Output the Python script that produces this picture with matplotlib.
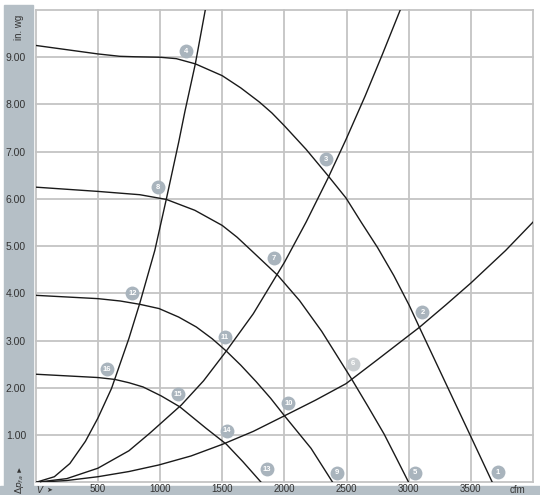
import matplotlib.pyplot as plt
from matplotlib.patches import Rectangle

# fan curves (cfm, in. wg)
fan1_q = [0, 500, 676, 800, 1000, 1131, 1284, 1500, 1650, 1800, 1900, 2000, 2175, 2349, 2496,
          2620, 2750, 2880, 3004, 3085, 3500, 3673]
fan1_p = [9.25, 9.07, 9.02, 9.01, 9.0, 8.97, 8.86, 8.61, 8.35, 8.05, 7.82, 7.55, 7.05, 6.5, 6.02,
          5.5, 4.97, 4.38, 3.75, 3.29, 0.97, 0]
fan2_q = [0, 500, 837, 1051, 1280, 1500, 1620, 1734, 1948, 2122, 2300, 2536, 2670, 2803, 2900, 3000]
fan2_p = [6.25, 6.16, 6.09, 5.99, 5.76, 5.44, 5.19, 4.91, 4.38, 3.85, 3.2, 2.21, 1.62, 1.02, 0.52, 0]
fan3_q = [0, 500, 680, 837, 992, 1150, 1292, 1420, 1533, 1650, 1774, 1890, 2001, 2215, 2389]
fan3_p = [3.96, 3.89, 3.84, 3.77, 3.68, 3.5, 3.29, 3.04, 2.78, 2.48, 2.13, 1.78, 1.41, 0.72, 0]
fan4_q = [0, 500, 636, 750, 864, 1010, 1159, 1373, 1533, 1666, 1814]
fan4_p = [2.29, 2.22, 2.18, 2.11, 2.02, 1.83, 1.6, 1.14, 0.81, 0.44, 0]

# system curves
sys1_q = [0, 150, 275, 400, 500, 610, 750, 837, 958, 1051, 1150, 1200, 1284, 1364]
sys1_p = [0, 0.12, 0.4, 0.87, 1.36, 1.99, 3.05, 3.79, 4.91, 6.0, 7.2, 7.85, 8.86, 10.0]
sys2_q = [0, 250, 500, 750, 917, 1172, 1350, 1533, 1750, 2001, 2175, 2349, 2496, 2650, 2790, 2932]
sys2_p = [0, 0.08, 0.3, 0.67, 1.04, 1.64, 2.15, 2.78, 3.57, 4.66, 5.51, 6.43, 7.26, 8.18, 9.07, 10.0]
sys3_q = [0, 250, 500, 750, 992, 1250, 1506, 1750, 2001, 2250, 2496, 2750, 2996, 3085, 3300,
          3500, 3780, 4000]
sys3_p = [0, 0.04, 0.12, 0.23, 0.37, 0.56, 0.81, 1.08, 1.41, 1.74, 2.09, 2.6, 3.1, 3.28, 3.76,
          4.22, 4.91, 5.51]

# numbered operating-point markers
marker_ids = list(range(1, 17))
marker_q = [3719, 3111, 2333, 1212, 3050, 2552, 1913, 984, 2421, 2033, 1520, 778, 1859, 1538, 1145, 575]
marker_p = [0.21, 3.6, 6.84, 9.13, 0.2, 2.51, 4.75, 6.25, 0.2, 1.68, 3.07, 4.0, 0.28, 1.09, 1.87, 2.4]

x_ticks = [500, 1000, 1500, 2000, 2500, 3000, 3500]
y_ticks = [1, 2, 3, 4, 5, 6, 7, 8, 9]

W, H = 540, 495
BAR = '#b5bfc6'
GRID = '#c4c4c4'
TXT = '#333333'

plt.rcParams['font.family'] = ['Liberation Sans', 'DejaVu Sans']
fig = plt.figure(figsize=(W / 100, H / 100), dpi=100)

# grey frame bars
fig.patches.append(Rectangle((4 / W, 0), 29 / W, 1 - 5 / H, transform=fig.transFigure,
                             color=BAR, zorder=-2))
fig.patches.append(Rectangle((0, 0), 1, 9.5 / H, transform=fig.transFigure,
                             color=BAR, zorder=-2))

ax = fig.add_axes([35.7 / W, 1 - 482.4 / H, (533 - 35.7) / W, (482.4 - 10) / H])
ax.set_xlim(0, 4000)
ax.set_ylim(0, 10)
for s in ax.spines.values():
    s.set_visible(False)

for q in range(0, 4001, 500):
    ax.axvline(q, color=GRID, lw=1.3, zorder=1, clip_on=False)
for p in range(0, 11):
    ax.axhline(p, color=GRID, lw=1.3, zorder=1, clip_on=False)

for q, p in [(fan1_q, fan1_p), (fan2_q, fan2_p), (fan3_q, fan3_p), (fan4_q, fan4_p),
             (sys1_q, sys1_p), (sys2_q, sys2_p), (sys3_q, sys3_p)]:
    ax.plot(q, p, color='#1a1a1a', lw=1.0, zorder=3)

for i, q, p in zip(marker_ids, marker_q, marker_p):
    c = '#c9cdd0' if i == 6 else '#a9b4bd'
    ax.plot(q, p, 'o', ms=10, color=c, mec='none', zorder=4)
    ax.text(q, p, str(i), color='white', fontsize=5.5, fontweight='bold',
            ha='center', va='center', zorder=5)

ax.set_xticks(x_ticks)
ax.set_xticklabels([str(v) for v in x_ticks])
ax.set_yticks(y_ticks)
ax.set_yticklabels(['%.2f' % v for v in y_ticks])
ax.tick_params(length=0, labelsize=7.5, colors=TXT)
ax.tick_params(axis='x', pad=1.5, labelsize=7)
ax.tick_params(axis='y', pad=7)

fig.text(518 / W, 1 - 490 / H, 'cfm', fontsize=7, color=TXT, ha='center', va='center')
fig.text(19 / W, 1 - 27 / H, 'in. wg', fontsize=7, color=TXT, rotation=90,
         ha='center', va='center')
fig.text(19 / W, 1 - 484 / H, r'$\Delta p_{fa}$', fontsize=6.5, color=TXT, rotation=90,
         ha='center', va='center')
fig.text(19 / W, 1 - 471 / H, '\u25b2', fontsize=4, color=TXT, ha='center', va='center',
         family=['DejaVu Sans'])
fig.text(40 / W, 1 - 489 / H, r'$\dot{V}$', fontsize=6.5, color=TXT, ha='center', va='center')
fig.text(49 / W, 1 - 490 / H, '\u27a4', fontsize=5, color=TXT, ha='center', va='center',
         family=['DejaVu Sans'])

fig.savefig('out.png', dpi=100)
